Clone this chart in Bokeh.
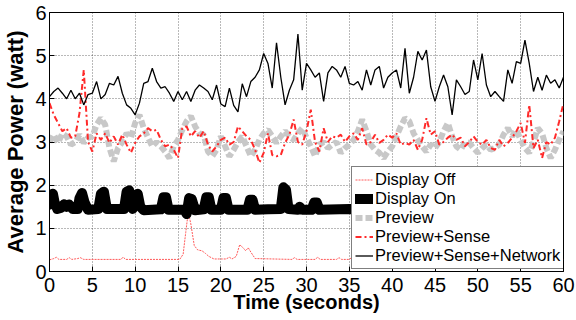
import numpy as np
from bokeh.plotting import figure
from bokeh.models import Range1d, FixedTicker, Legend, LegendItem
from bokeh.embed import file_html
from bokeh.resources import INLINE

# ---- data -------------------------------------------------------------
t_half = np.arange(0, 60.01, 0.5)  # sample times (s)

net_v = [4.05, 4.17, 4.25, 4.13, 4.00, 4.20, 4.00, 4.13, 3.86, 4.10,
         4.13, 4.40, 4.00, 4.10, 4.36, 4.32, 4.52, 4.13, 3.86, 3.78,
         3.63, 3.90, 4.36, 4.40, 4.71, 4.40, 4.25, 4.28, 4.13, 3.94,
         4.17, 3.98, 4.17, 3.94, 4.20, 4.32, 4.25, 4.17, 3.98, 4.32,
         3.88, 3.82, 4.25, 3.85, 3.70, 4.35, 4.05, 4.40, 4.50, 4.67,
         5.05, 4.82, 4.25, 5.30, 4.50, 3.86, 4.20, 4.44, 5.50, 4.20,
         4.82, 4.67, 4.50, 4.60, 3.94, 4.60, 4.75, 4.67, 4.50, 4.75,
         4.36, 4.32, 4.40, 4.20, 4.67, 4.32, 4.67, 4.75, 4.25, 4.50,
         4.60, 4.67, 4.25, 5.17, 4.13, 4.50, 5.10, 4.90, 5.13, 4.28,
         3.94, 4.28, 4.55, 4.28, 3.63, 4.44, 4.28, 4.10, 4.17, 4.90,
         4.44, 5.05, 4.32, 4.05, 4.17, 4.05, 3.94, 4.67, 4.36, 4.86,
         4.82, 5.36, 4.82, 4.17, 4.50, 4.20, 4.55, 4.36, 4.44, 4.25,
         4.50]

sense_v = [3.90, 3.63, 3.44, 3.25, 3.32, 3.10, 3.13, 3.67, 4.67, 3.00,
           2.78, 3.20, 3.05, 3.20, 2.98, 3.13, 2.94, 3.17, 2.94, 2.75,
           2.98, 3.13, 3.20, 3.32, 3.25, 3.28, 3.05, 2.90, 2.94, 2.82,
           2.63, 3.32, 3.36, 3.13, 3.25, 3.10, 3.25, 2.94, 2.78, 2.90,
           3.05, 3.10, 2.94, 3.00, 3.36, 3.25, 3.13, 3.05, 2.82, 2.52,
           2.75, 3.20, 2.70, 2.67, 2.70, 2.98, 3.17, 3.52, 3.00, 2.94,
           3.25, 3.75, 3.00, 2.78, 3.32, 3.00, 3.13, 3.10, 3.17, 3.00,
           3.13, 3.20, 3.05, 3.32, 2.94, 3.00, 3.17, 2.98, 3.05, 3.17,
           3.10, 3.20, 2.94, 2.98, 2.94, 3.05, 2.82, 3.05, 3.55, 3.17,
           3.25, 2.94, 3.00, 3.10, 3.17, 3.05, 3.10, 2.90, 3.00, 3.13,
           3.00, 2.94, 3.05, 2.86, 2.82, 3.05, 2.90, 2.98, 3.10, 3.25,
           3.44, 2.98, 3.86, 2.86, 3.05, 2.63, 3.00, 2.94, 3.10, 3.48,
           3.90]

preview_v = [3.00, 3.17, 2.98, 3.20, 3.13, 2.94, 3.00, 3.17, 2.98, 3.10,
             3.13, 3.40, 3.55, 3.40, 2.86, 2.55, 2.86, 3.00, 3.20, 3.10,
             3.44, 3.63, 3.32, 3.10, 2.90, 3.00, 2.90, 2.78, 2.63, 2.90,
             3.05, 3.28, 3.48, 3.60, 3.36, 3.20, 3.17, 2.78, 2.67, 2.82,
             3.13, 2.90, 2.67, 2.82, 3.00, 3.13, 2.90, 2.67, 2.82, 3.05,
             3.20, 3.28, 3.13, 2.98, 3.13, 3.25, 3.13, 3.05, 3.20, 3.32,
             3.10, 2.90, 2.67, 2.94, 3.00, 2.86, 2.94, 3.00, 2.75, 2.86,
             2.94, 3.05, 3.25, 3.52, 3.25, 2.94, 2.82, 2.75, 2.63, 2.78,
             2.90, 3.13, 3.36, 3.55, 3.48, 3.20, 3.05, 2.90, 2.78, 2.94,
             2.86, 3.00, 3.25, 3.44, 3.13, 2.90, 2.82, 3.00, 2.98, 2.86,
             2.75, 2.86, 2.94, 2.82, 2.86, 2.94, 3.17, 3.32, 3.13, 3.28,
             3.05, 2.86, 2.75, 3.00, 3.32, 3.20, 2.86, 2.63, 2.82, 3.05,
             3.25]

don_t = [0, 0.2, 0.4, 0.6, 0.9, 1.4, 1.7, 2.0, 2.3, 2.7, 3.3, 3.5, 3.8, 4.1,
         4.5, 5.7, 6.0, 6.35, 6.7, 8.7, 9.0, 9.3, 9.7, 10.0, 10.3, 10.6, 11.0,
         13.0, 13.3, 13.6, 13.9, 15.5, 15.8, 16.0, 16.3, 16.6, 17.0, 18.0,
         18.3, 18.6, 18.9, 20.0, 20.3, 20.6, 20.9, 23.1, 23.4, 23.7, 24.0,
         25.5, 27.0, 27.3, 27.6, 27.9, 29.0, 29.2, 29.5, 30.6, 30.9, 31.2,
         31.5, 35.0, 60.0]
don_v = [1.55, 1.75, 1.80, 1.60, 1.45, 1.48, 1.56, 1.50, 1.55, 1.45, 1.45,
         1.70, 1.82, 1.60, 1.43, 1.45, 1.80, 1.85, 1.45, 1.45, 1.85, 1.88,
         1.45, 1.70, 1.80, 1.50, 1.42, 1.44, 1.72, 1.72, 1.43, 1.43, 1.42,
         1.33, 1.70, 1.68, 1.42, 1.44, 1.72, 1.72, 1.43, 1.43, 1.70, 1.70,
         1.43, 1.43, 1.66, 1.66, 1.43, 1.44, 1.45, 1.95, 1.90, 1.45, 1.43,
         1.50, 1.43, 1.43, 1.60, 1.60, 1.43, 1.45, 1.42]

doff_t = [0, 0.5, 0.8, 1.1, 2.0, 2.3, 2.6, 3.3, 3.6, 4.0, 8.3, 8.6, 8.9, 15.2,
          15.6, 15.9, 16.2, 16.5, 16.9, 17.3, 17.8, 18.2, 18.6, 19.2, 20.6,
          21.0, 21.3, 21.8, 22.2, 22.6, 22.9, 23.2, 23.5, 24.0, 28.3, 28.6,
          28.9, 31.0, 31.3, 31.6, 33.5, 33.8, 34.1, 35.0, 35.3, 35.6, 60.0]
doff_v = [0.27, 0.30, 0.33, 0.28, 0.28, 0.32, 0.28, 0.30, 0.32, 0.28, 0.28,
          0.33, 0.28, 0.28, 0.40, 0.90, 1.38, 1.10, 0.60, 0.50, 0.48, 0.42,
          0.35, 0.29, 0.29, 0.33, 0.29, 0.35, 0.62, 0.55, 0.48, 0.55, 0.45,
          0.30, 0.28, 0.32, 0.28, 0.28, 0.33, 0.28, 0.28, 0.32, 0.28, 0.28,
          0.33, 0.28, 0.28]

series_names = ["Display Off", "Display On", "Preview", "Preview+Sense",
                "Preview+Sense+Network"]
x_ticks = [0, 5, 10, 15, 20, 25, 30, 35, 40, 45, 50, 55, 60]
y_ticks = [0, 1, 2, 3, 4, 5, 6]
x_title = "Time (seconds)"
y_title = "Average Power (watt)"

FONT = "Liberation Sans"

# ---- figure -----------------------------------------------------------
p = figure(width=576, height=320, output_backend="svg", toolbar_location=None,
           x_range=Range1d(0, 60), y_range=Range1d(0, 6),
           min_border_left=48, min_border_right=13, min_border_top=12,
           min_border_bottom=49)
p.background_fill_color = "white"
p.border_fill_color = "white"
p.outline_line_color = "black"
p.outline_line_width = 1

r_off = p.line(doff_t, doff_v, line_color="#ff5a5a", line_width=1,
               line_dash="2 1")
r_on = p.line(don_t, don_v, line_color="black", line_width=10,
              line_join="round", line_cap="round")
r_prev = p.line(t_half, preview_v, line_color="#c8c8c8", line_width=6,
                line_dash="7 3")
r_sense = p.line(t_half, sense_v, line_color="#ff2a2a", line_width=2,
                 line_dash="6 3 2 3")
r_net = p.line(t_half, net_v, line_color="black", line_width=1.3)

for ax in (p.xaxis[0], p.yaxis[0]):
    ax.major_label_text_font = FONT
    ax.major_label_text_color = "black"
    ax.major_label_text_font_size = "20px"
    ax.axis_label_text_font = FONT
    ax.axis_label_text_font_style = "bold"
    ax.axis_label_text_color = "black"
    ax.major_tick_in = 5
    ax.major_tick_out = 0
    ax.minor_tick_in = 0
    ax.minor_tick_out = 0
    ax.axis_line_color = "black"
    ax.major_tick_line_color = "black"

p.xaxis[0].ticker = FixedTicker(ticks=x_ticks)
p.xaxis[0].major_label_standoff = 6
p.xaxis[0].axis_label = x_title
p.xaxis[0].axis_label_text_font_size = "20px"
p.xaxis[0].axis_label_standoff = -4

p.yaxis[0].ticker = FixedTicker(ticks=y_ticks)
p.yaxis[0].major_label_standoff = 3
p.yaxis[0].axis_label = y_title
p.yaxis[0].axis_label_text_font_size = "22px"
p.yaxis[0].axis_label_standoff = 4

for g in (p.xgrid[0], p.ygrid[0]):
    g.grid_line_color = "black"
    g.grid_line_alpha = 0.55
    g.grid_line_dash = "1 2"
    g.grid_line_width = 1

legend = Legend(items=[LegendItem(label=n, renderers=[r]) for n, r in
                       zip(series_names, [r_off, r_on, r_prev, r_sense, r_net])],
                location=(302, 2))
legend.label_text_font = FONT
legend.label_text_font_size = "16.5px"
legend.label_text_color = "black"
legend.glyph_width = 18
legend.glyph_height = 19
legend.label_height = 19
legend.label_standoff = 2
legend.spacing = 0
legend.padding = 3
legend.margin = 0
legend.border_line_color = "black"
legend.border_line_width = 1.5
legend.background_fill_color = "white"
legend.background_fill_alpha = 1.0
p.add_layout(legend, "center")

open("out.html", "w").write(file_html(p, INLINE))
